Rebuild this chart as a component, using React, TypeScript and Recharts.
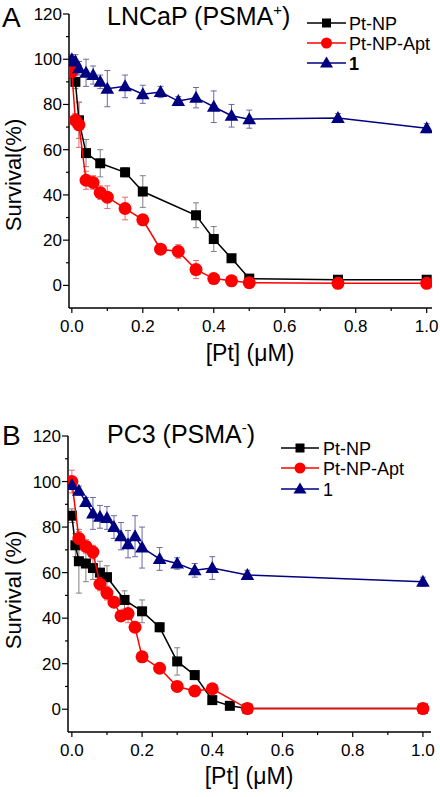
import React from "react";
import { ErrorBar, Scatter, ScatterChart, XAxis, YAxis } from "recharts";

const FONT = '"Liberation Sans", Arial, Helvetica, sans-serif';

// Panel A – LNCaP (PSMA+)
const A_NP_X = [0, 0.01, 0.02, 0.04, 0.08, 0.15, 0.2, 0.35, 0.4, 0.45, 0.5, 0.75, 1.0];
const A_NP_Y = [99, 90, 73, 58.5, 54, 50, 41.5, 31, 20.5, 12, 3, 2.5, 2.5];
const A_NP_E = [2, 3, 8, 6, 6, 2, 7, 5.5, 5.5, 1, 1, 1, 1];

const A_APT_X = [0, 0.01, 0.02, 0.04, 0.06, 0.08, 0.1, 0.15, 0.2, 0.25, 0.3, 0.35, 0.4, 0.45, 0.5, 0.75, 1.0];
const A_APT_Y = [94.5, 73, 71, 46.5, 45.5, 41, 39, 34, 29, 16, 15, 7, 3, 2, 1.2, 0.9, 0.9];
const A_APT_E = [3, 3, 10, 4, 3, 3, 5, 5, 2, 1, 3, 4, 1, 1, 1, 1, 1];

const A_ONE_X = [0, 0.01, 0.02, 0.04, 0.06, 0.08, 0.1, 0.15, 0.2, 0.25, 0.3, 0.35, 0.4, 0.45, 0.5, 0.75, 1.0];
const A_ONE_Y = [100, 99, 96, 94, 93, 90, 87, 88, 84.5, 85.5, 81.5, 83, 79, 75, 73.5, 74, 69.5];
const A_ONE_E = [2, 3, 3, 6, 4, 3, 8, 5, 4, 2.5, 2, 4.5, 7, 5, 4, 2, 2];

// Panel B – PC3 (PSMA-)
const B_NP_X = [0, 0.01, 0.02, 0.04, 0.06, 0.08, 0.1, 0.15, 0.2, 0.25, 0.3, 0.35, 0.4, 0.45, 0.5, 1.0];
const B_NP_Y = [85, 72, 65, 64, 62, 60, 58, 48, 43, 36, 21, 15, 4, 1.5, 0.3, 0.3];
const B_NP_E = [3, 5, 14, 8, 5, 5, 5, 4, 5, 2, 6, 2, 1, 1, 1, 1];

const B_APT_X = [0, 0.02, 0.04, 0.06, 0.08, 0.1, 0.12, 0.14, 0.16, 0.18, 0.2, 0.25, 0.3, 0.35, 0.4, 0.5, 1.0];
const B_APT_Y = [100, 75, 71.5, 69, 55, 51, 47, 41, 42, 36, 23, 18, 10, 8, 9, 0.3, 0.3];
const B_APT_E = [5, 3, 3, 3, 3, 3, 2, 2, 4, 2, 1, 1, 1, 1, 1, 1, 1];

const B_ONE_X = [0, 0.02, 0.04, 0.06, 0.08, 0.1, 0.12, 0.14, 0.16, 0.18, 0.2, 0.25, 0.3, 0.35, 0.4, 0.5, 1.0];
const B_ONE_Y = [98.5, 96, 91, 86, 84.5, 84, 80, 76, 72.5, 76, 71, 66, 64, 61, 62, 59, 56];
const B_ONE_E = [2, 2, 2, 7, 5, 5, 5, 6, 6, 9, 9, 5, 2.5, 3, 5, 2, 2];

const X_TICKS = [0, 0.1, 0.2, 0.3, 0.4, 0.5, 0.6, 0.7, 0.8, 0.9, 1.0];
const Y_TICKS = [0, 10, 20, 30, 40, 50, 60, 70, 80, 90, 100, 110, 120];

const SERIES_NAMES = ["Pt-NP", "Pt-NP-Apt", "1"];

const BLACK = "#000000";
const RED = "#ff0000";
const NAVY = "#000080";

const zip = (xs: number[], ys: number[], es: number[]) =>
  xs.map((x, i) => ({ x, y: ys[i], e: es[i] }));

function XTick(props: any) {
  const { x, y, payload } = props;
  const v = payload.value as number;
  const major = Math.round(v * 10) % 2 === 0;
  return (
    <g>
      <line x1={x} x2={x} y1={y} y2={y + (major ? 5 : 3)} stroke="#000" strokeWidth={1.2} />
      {major && (
        <text x={x} y={y + 24} textAnchor="middle" fontSize={17} fontFamily={FONT} fill="#000">
          {v.toFixed(1)}
        </text>
      )}
    </g>
  );
}

function YTick(props: any) {
  const { x, y, payload } = props;
  const v = payload.value as number;
  const major = v % 20 === 0;
  return (
    <g>
      <line x1={x} x2={x - (major ? 6 : 3)} y1={y} y2={y} stroke="#000" strokeWidth={1.2} />
      {major && (
        <text x={x - 7} y={y + 6} textAnchor="end" fontSize={17} fontFamily={FONT} fill="#000">
          {v}
        </text>
      )}
    </g>
  );
}

const square = (p: any) => <rect x={p.cx - 5} y={p.cy - 5} width={10} height={10} fill={BLACK} />;
const circle = (p: any) => <circle cx={p.cx} cy={p.cy} r={6.5} fill={RED} />;
const triangle = (p: any) => (
  <polygon
    points={`${p.cx},${p.cy - 7} ${p.cx - 6.8},${p.cy + 5} ${p.cx + 6.8},${p.cy + 5}`}
    fill={NAVY}
  />
);

function LegendRows({ x1, x2, tx, rows, boldOne }: { x1: number; x2: number; tx: number; rows: number[]; boldOne: boolean }) {
  const mx = (x1 + x2) / 2;
  return (
    <g>
      {SERIES_NAMES.map((name, i) => {
        const yc = rows[i];
        const color = i === 0 ? BLACK : i === 1 ? RED : NAVY;
        return (
          <g key={name}>
            <line x1={x1} x2={x2} y1={yc} y2={yc} stroke={color} strokeWidth={1.5} />
            {i === 0 && <rect x={mx - 4.5} y={yc - 4.5} width={9} height={9} fill={BLACK} />}
            {i === 1 && <circle cx={mx} cy={yc} r={5.5} fill={RED} />}
            {i === 2 && <polygon points={`${mx},${yc - 6.5} ${mx - 6.5},${yc + 4.5} ${mx + 6.5},${yc + 4.5}`} fill={NAVY} />}
            <text
              x={tx}
              y={yc + 6.5}
              fontSize={18}
              fontFamily={FONT}
              fontWeight={i === 2 && boldOne ? "bold" : "normal"}
            >
              {name}
            </text>
          </g>
        );
      })}
    </g>
  );
}

type PanelProps = {
  height: number;
  top: number;
  right: number;
  yAxisWidth: number;
  xAxisHeight: number;
  xDomain: [number, number];
  np: { x: number; y: number; e: number }[];
  apt: { x: number; y: number; e: number }[];
  one: { x: number; y: number; e: number }[];
  children: React.ReactNode;
};

function Panel({ height, top, right, yAxisWidth, xAxisHeight, xDomain, np, apt, one, children }: PanelProps) {
  return (
    <div style={{ position: "relative", width: 440, height }}>
      <ScatterChart width={440} height={height} margin={{ top, right, bottom: 0, left: 0 }}>
        <XAxis
          type="number"
          dataKey="x"
          domain={xDomain}
          allowDataOverflow
          ticks={X_TICKS}
          interval={0}
          tickSize={0}
          tickMargin={0}
          tickLine={false}
          tick={(p: any) => <XTick {...p} />}
          axisLine={{ stroke: "#000", strokeWidth: 1.5 }}
          height={xAxisHeight}
        />
        <YAxis
          type="number"
          dataKey="y"
          domain={[-10, 120]}
          allowDataOverflow
          ticks={Y_TICKS}
          interval={0}
          tickSize={0}
          tickMargin={0}
          tickLine={false}
          tick={(p: any) => <YTick {...p} />}
          axisLine={{ stroke: "#000", strokeWidth: 1.5 }}
          width={yAxisWidth}
        />
        <Scatter
          data={np}
          fill={BLACK}
          line={{ stroke: BLACK, strokeWidth: 1.5 }}
          lineType="joint"
          shape={square}
          isAnimationActive={false}
        >
          <ErrorBar dataKey="e" direction="y" width={3} stroke="#808080" strokeWidth={1} />
        </Scatter>
        <Scatter
          data={apt}
          fill={RED}
          line={{ stroke: RED, strokeWidth: 1.5 }}
          lineType="joint"
          shape={circle}
          isAnimationActive={false}
        >
          <ErrorBar dataKey="e" direction="y" width={3} stroke="#f06a6a" strokeWidth={1} />
        </Scatter>
        <Scatter
          data={one}
          fill={NAVY}
          line={{ stroke: NAVY, strokeWidth: 1.5 }}
          lineType="joint"
          shape={triangle}
          isAnimationActive={false}
        >
          <ErrorBar dataKey="e" direction="y" width={3} stroke="#6a6aa8" strokeWidth={1} />
        </Scatter>
      </ScatterChart>
      <svg
        width={440}
        height={height}
        style={{ position: "absolute", left: 0, top: 0, pointerEvents: "none" }}
      >
        {children}
      </svg>
    </div>
  );
}

export default function App() {
  return (
    <div style={{ width: 440, height: 797, background: "#fff", fontFamily: FONT }}>
      <style>{"body{margin:0}"}</style>
      <Panel
        height={390}
        top={14}
        right={8}
        yAxisWidth={69}
        xAxisHeight={82}
        xDomain={[-0.008, 1.015]}
        np={zip(A_NP_X, A_NP_Y, A_NP_E)}
        apt={zip(A_APT_X, A_APT_Y, A_APT_E)}
        one={zip(A_ONE_X, A_ONE_Y, A_ONE_E)}
      >
        <text x={2} y={27} fontSize={28} fontFamily={FONT}>A</text>
        <text x={107} y={25} fontSize={25} fontFamily={FONT}>
          LNCaP (PSMA<tspan dy={-10} fontSize={15}>+</tspan>
          <tspan dy={10}>)</tspan>
        </text>
        <LegendRows x1={307} x2={346} tx={349} rows={[23, 43, 63]} boldOne />
        <text
          x={21}
          y={175}
          fontSize={22}
          fontFamily={FONT}
          textAnchor="middle"
          transform="rotate(-90 21 175)"
        >
          Survival(%)
        </text>
        <text x={250} y={361} fontSize={23} fontFamily={FONT} textAnchor="middle">
          [Pt] (μM)
        </text>
      </Panel>
      <Panel
        height={407}
        top={46}
        right={9}
        yAxisWidth={68}
        xAxisHeight={65}
        xDomain={[-0.011, 1.023]}
        np={zip(B_NP_X, B_NP_Y, B_NP_E)}
        apt={zip(B_APT_X, B_APT_Y, B_APT_E)}
        one={zip(B_ONE_X, B_ONE_Y, B_ONE_E)}
      >
        <text x={2} y={55} fontSize={28} fontFamily={FONT}>B</text>
        <text x={107} y={53} fontSize={25} fontFamily={FONT}>
          PC3 (PSMA<tspan dy={-10} fontSize={15}>-</tspan>
          <tspan dy={10}>)</tspan>
        </text>
        <LegendRows x1={281} x2={319} tx={323} rows={[58, 78, 99]} boldOne={false} />
        <text
          x={21}
          y={200}
          fontSize={22}
          fontFamily={FONT}
          textAnchor="middle"
          transform="rotate(-90 21 200)"
        >
          Survival (%)
        </text>
        <text x={249} y={394} fontSize={23} fontFamily={FONT} textAnchor="middle">
          [Pt] (μM)
        </text>
      </Panel>
    </div>
  );
}
